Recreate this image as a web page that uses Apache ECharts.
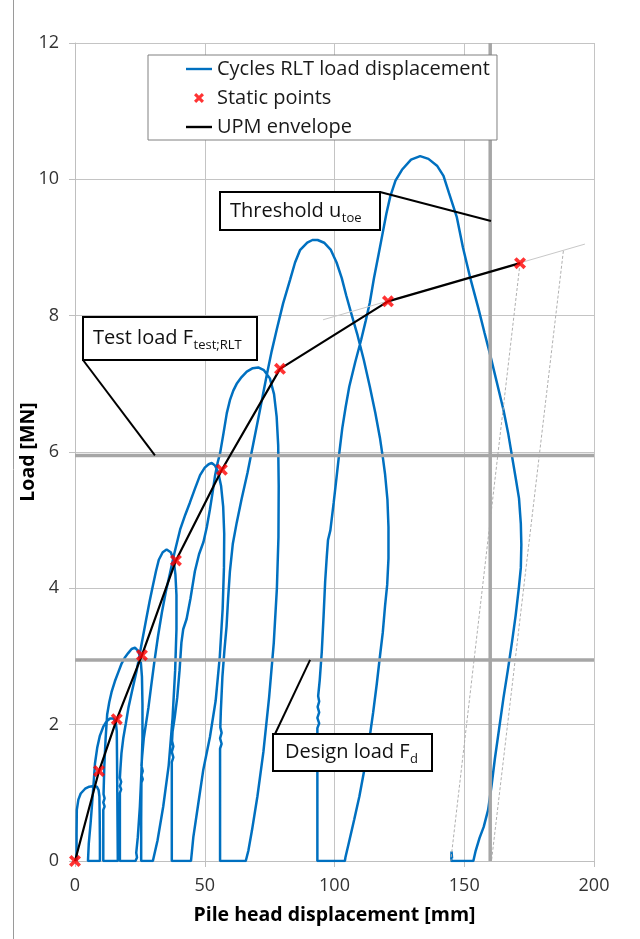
<!DOCTYPE html>
<html><head><meta charset="utf-8">
<script src="https://cdn.jsdelivr.net/npm/echarts@6/dist/echarts.min.js"></script>
<style>html,body{margin:0;padding:0;background:#fff;} #c{width:640px;height:939px;}</style>
</head><body><div id="c"></div>
<script>
// ---------------- data ----------------
const xTicks = [0, 50, 100, 150, 200];
const yTicks = [0, 2, 4, 6, 8, 10, 12];

// RLT load cycles: [displacement mm, load MN]
const cycle1 = [[0.6,0],[0.6,0.4],[0.7,0.75],[1.3,0.9],[2.2,0.99],[3.9,1.06],[5.5,1.09],[7.2,1.1],[8.4,1.09],[9.1,1.04],[9.4,0.95],[9.5,0.7],[9.6,0.3],[9.6,0]];
const cycle2 = [[5.0,0],[5.3,0.25],[6.0,0.55],[6.6,0.85],[7.1,1.1],[7.7,1.43],[8.6,1.67],[9.6,1.84],[10.9,1.97],[12.2,2.05],[13.5,2.09],[14.8,2.09],[15.7,2.04],[16.1,1.9],[16.2,1.5],[16.3,1.0],[16.4,0.5],[16.5,0]];
const cycle3 = [[10.9,0],[10.9,0.5],[10.9,0.75],[11.4,0.8],[10.9,0.86],[11.4,0.92],[11.0,0.98],[11.3,1.4],[11.8,1.8],[12.4,2.15],[13.2,2.33],[14.1,2.48],[15.4,2.64],[16.7,2.77],[18.0,2.9],[19.3,2.99],[20.5,3.05],[21.8,3.11],[23.1,3.13],[24.4,3.08],[25.3,2.95],[25.8,2.7],[26.0,2.3],[26.0,1.8],[25.6,1.3],[25.0,0.8],[24.2,0.35],[23.6,0.12],[23.9,0.05],[23.3,0]];
const cycle4 = [[17.3,0],[17.3,0.6],[17.3,1.0],[17.8,1.05],[17.3,1.1],[17.8,1.16],[17.3,1.22],[17.5,1.35],[17.9,1.58],[18.6,1.8],[19.6,2.02],[20.6,2.25],[21.8,2.46],[23.8,2.8],[25.5,3.15],[27.4,3.54],[28.7,3.8],[29.9,4.02],[31.2,4.25],[32.3,4.42],[33.8,4.53],[35.3,4.57],[36.9,4.53],[38.0,4.42],[38.7,4.2],[39.1,3.9],[39.1,3.4],[38.6,2.8],[37.6,2.1],[36.1,1.4],[34.0,0.8],[31.8,0.3],[30.0,0]];
const cycle5 = [[25.5,0],[25.5,0.6],[25.6,1.15],[26.1,1.2],[25.6,1.26],[26.1,1.32],[25.6,1.4],[25.9,1.55],[26.5,1.8],[27.3,2.0],[28.3,2.25],[29.3,2.55],[30.5,2.9],[32.0,3.3],[33.5,3.65],[35.0,3.95],[36.6,4.22],[38.2,4.5],[40.5,4.86],[42.5,5.08],[44.3,5.26],[46.3,5.47],[48.2,5.66],[50.0,5.77],[51.5,5.82],[52.7,5.84],[54.0,5.8],[55.2,5.7],[56.3,5.5],[57.1,5.2],[57.5,4.8],[57.4,4.3],[56.9,3.7],[55.8,3.0],[54.2,2.35],[52.0,1.82],[49.4,1.33],[47.5,0.84],[45.6,0.35],[44.7,0]];
const cycle6 = [[37.3,0],[37.3,0.8],[37.3,1.45],[37.9,1.52],[37.3,1.6],[37.9,1.68],[37.4,1.76],[37.6,1.9],[38.4,2.1],[39.4,2.4],[40.3,2.8],[41.0,3.2],[41.7,3.4],[43.0,3.55],[44.5,3.85],[46.2,4.25],[47.8,4.5],[49.5,4.68],[50.8,4.9],[52.0,5.16],[53.0,5.4],[54.0,5.66],[55.0,5.85],[55.9,5.98],[57.2,6.27],[58.5,6.57],[59.7,6.76],[61.0,6.9],[62.3,7.0],[64.2,7.1],[66.2,7.18],[68.5,7.23],[70.6,7.24],[72.8,7.2],[75.1,7.08],[76.7,6.85],[77.7,6.52],[78.3,6.1],[78.5,5.5],[78.4,4.75],[77.8,4.0],[76.6,3.2],[74.8,2.4],[72.6,1.6],[70.3,0.95],[68.2,0.45],[66.8,0.15],[65.8,0]];
const cycle7 = [[55.9,0],[55.9,0.9],[55.9,1.65],[56.5,1.72],[55.9,1.8],[56.5,1.88],[56.0,1.96],[56.2,2.2],[56.8,2.7],[57.6,3.1],[58.4,3.44],[59.0,3.85],[59.7,4.25],[60.8,4.65],[62.3,4.96],[64.2,5.31],[66.5,5.7],[68.7,6.12],[71.2,6.6],[73.9,7.13],[75.8,7.48],[77.7,7.79],[80.2,8.18],[82.9,8.53],[84.8,8.78],[86.7,8.96],[89.5,9.07],[91.5,9.11],[93.5,9.11],[96.0,9.07],[98.5,8.97],[100.8,8.78],[102.8,8.55],[104.5,8.3],[106.7,8.0],[108.9,7.71],[111.3,7.35],[113.6,6.96],[115.7,6.58],[117.5,6.21],[118.7,5.9],[119.5,5.67],[120.4,5.3],[120.8,4.9],[120.8,4.44],[120.3,4.05],[119.5,3.75],[118.6,3.35],[117.5,3.0],[116.3,2.6],[114.9,2.18],[113.3,1.75],[111.6,1.36],[109.6,0.95],[107.6,0.61],[105.6,0.28],[104.2,0.05],[104.0,0]];
const cycle8 = [[93.4,0],[93.4,1.0],[93.4,1.95],[94.1,2.02],[93.4,2.1],[94.1,2.18],[93.5,2.26],[94.1,2.34],[93.7,2.42],[94.3,2.65],[95.1,3.07],[95.8,3.6],[96.4,4.1],[97.0,4.45],[97.5,4.71],[98.4,4.85],[99.7,5.26],[100.7,5.6],[101.7,5.94],[103.0,6.35],[104.3,6.66],[105.7,6.96],[108.0,7.32],[110.3,7.65],[112.0,7.92],[113.6,8.19],[115.2,8.55],[117.0,8.9],[118.5,9.2],[120.0,9.5],[121.5,9.75],[123.5,9.98],[126.0,10.14],[129.5,10.29],[133.0,10.34],[136.2,10.3],[139.5,10.2],[142.0,10.05],[144.1,9.8],[147.1,9.45],[149.5,9.0],[152.2,8.57],[155.5,8.1],[157.8,7.75],[159.9,7.44],[162.5,7.03],[165.1,6.62],[166.9,6.28],[168.4,5.94],[169.9,5.6],[171.1,5.32],[171.8,4.95],[172.0,4.64],[171.8,4.3],[171.1,4.03],[169.8,3.6],[168.4,3.21],[166.8,2.8],[165.1,2.39],[163.4,1.93],[161.8,1.5],[160.5,1.1],[159.2,0.75],[157.5,0.5],[155.9,0.34],[154.4,0.15],[153.5,0],[145.0,0],[145.1,0.14],[145.3,0.04]];

// static points (= UPM envelope vertices)
const staticX = [0, 9.25, 16.1, 25.8, 38.9, 56.6, 79.0, 120.6, 171.5];
const staticY = [0, 1.32, 2.08, 3.02, 4.41, 5.74, 7.22, 8.21, 8.77];

// extrapolation & unloading construction lines
const extrapLine = [[95.6, 7.94], [196.5, 9.05]];
const unload1 = [[171.5, 8.77], [144.8, 0]];
const unload2 = [[188.2, 8.95], [160.5, 0]];

// reference levels
const thresholdDisp = 160;
const testLoad = 5.95;
const designLoad = 2.95;

const seriesNames = ['Cycles RLT load displacement', 'Static points', 'UPM envelope'];
const annoThreshold = ['Threshold u', 'toe'];
const annoTest = ['Test load F', 'test;RLT'];
const annoDesign = ['Design load F', 'd'];

// ---------------- chart ----------------
const FONT = '"Open Sans", "Noto Sans", sans-serif';
const BLUE = '#0070C0';
const chart = echarts.init(document.getElementById('c'), null, {renderer: 'canvas'});
const cycles = [].concat(cycle1, cycle2, cycle3, cycle4, cycle5, cycle6, cycle7, cycle8);
const staticPts = staticX.map((x, i) => [x, staticY[i]]);
const xSym = 'path://M0,3 L3,0 L7,4 L11,0 L14,3 L10,7 L14,11 L11,14 L7,10 L3,14 L0,11 L4,7 Z';
const lineIcon = 'path://M0,0 L26,0 L26,2.4 L0,2.4 Z';
const refStyle = {color: '#a6a6a6', width: 3.5};

const axisCommon = {
  axisLine: {show: true, lineStyle: {color: '#bfbfbf', width: 1}},
  axisTick: {show: true, inside: false, length: 6, lineStyle: {color: '#bfbfbf'}},
  splitLine: {show: true, lineStyle: {color: '#c4c4c4', width: 1}},
  nameLocation: 'middle',
  nameMoveOverlap: false,
  nameTextStyle: {fontSize: 19.5, fontWeight: 'bold', fontFamily: FONT, color: '#000'}
};

chart.setOption({
  animation: false,
  backgroundColor: '#fff',
  grid: {left: 75, right: 46, top: 43, bottom: 78, containLabel: false},
  xAxis: Object.assign({}, axisCommon, {
    type: 'value', min: xTicks[0], max: xTicks[xTicks.length - 1], interval: xTicks[1] - xTicks[0],
    name: 'Pile head displacement [mm]', nameGap: 44,
    axisLabel: {fontSize: 18, fontFamily: FONT, color: '#333', margin: 16}
  }),
  yAxis: Object.assign({}, axisCommon, {
    type: 'value', min: yTicks[0], max: yTicks[yTicks.length - 1], interval: yTicks[1] - yTicks[0],
    name: 'Load [MN]', nameGap: 37,
    axisLabel: {fontSize: 18, fontFamily: FONT, color: '#333', margin: 16}
  }),
  legend: {
    data: [
      {name: seriesNames[0], icon: lineIcon, itemStyle: {color: BLUE}},
      {name: seriesNames[1], icon: xSym, itemStyle: {color: '#ff0000'}},
      {name: seriesNames[2], icon: lineIcon, itemStyle: {color: '#000'}}
    ],
    orient: 'vertical', left: 148, top: 55,
    padding: [3, 7, 2, 38], itemGap: 7, itemWidth: 26, itemHeight: 10, symbolKeepAspect: true,
    backgroundColor: '#fff', borderColor: '#808080', borderWidth: 1, borderRadius: 0,
    textStyle: {fontSize: 20, fontFamily: FONT, color: '#1a1a1a', lineHeight: 22},
    selectedMode: false
  },
  series: [
    {name: seriesNames[0], type: 'line', data: cycles, showSymbol: false, symbol: 'none',
     lineStyle: {color: BLUE, width: 2.5}, itemStyle: {color: BLUE}, z: 2, silent: true},
    {name: 'extrap', type: 'line', data: extrapLine, showSymbol: false, symbol: 'none',
     lineStyle: {color: '#c8c8c8', width: 1}, z: 2, silent: true},
    {name: 'unload1', type: 'line', data: unload1, showSymbol: false, symbol: 'none',
     lineStyle: {color: '#b0b0b0', width: 1, type: [3, 2]}, z: 2, silent: true},
    {name: 'unload2', type: 'line', data: unload2, showSymbol: false, symbol: 'none',
     lineStyle: {color: '#b0b0b0', width: 1, type: [3, 2]}, z: 2, silent: true},
    {name: 'threshold', type: 'line', data: [[thresholdDisp, yTicks[0]], [thresholdDisp, yTicks[yTicks.length - 1]]],
     showSymbol: false, symbol: 'none', lineStyle: refStyle, z: 3, silent: true},
    {name: 'test', type: 'line', data: [[xTicks[0], testLoad], [xTicks[xTicks.length - 1], testLoad]],
     showSymbol: false, symbol: 'none', lineStyle: refStyle, z: 3, silent: true},
    {name: 'design', type: 'line', data: [[xTicks[0], designLoad], [xTicks[xTicks.length - 1], designLoad]],
     showSymbol: false, symbol: 'none', lineStyle: refStyle, z: 3, silent: true},
    {name: seriesNames[2], type: 'line', data: staticPts, showSymbol: false, symbol: 'none',
     lineStyle: {color: '#000', width: 2.2}, itemStyle: {color: '#000'}, z: 4, silent: true},
    {name: seriesNames[1], type: 'scatter', data: staticPts, symbol: xSym, symbolSize: 12,
     itemStyle: {color: '#ff0000'}, z: 6, silent: true}
  ]
});

// ---------------- annotations ----------------
const px = p => chart.convertToPixel({gridIndex: 0}, p);
const mctx = document.createElement('canvas').getContext('2d');
function tw(t, size) { mctx.font = size + 'px ' + FONT; return mctx.measureText(t).width; }

function annotation(box, texts, padL, target, corner) {
  const cy = box.y + box.h / 2;
  const tx = box.x + padL;
  const w = tw(texts[0], 20);
  return [
    {type: 'line', shape: {x1: corner[0], y1: corner[1], x2: target[0], y2: target[1]},
     style: {stroke: '#000', lineWidth: 2}, z: 100},
    {type: 'rect', shape: {x: box.x, y: box.y, width: box.w, height: box.h},
     style: {fill: '#fff', stroke: '#000', lineWidth: 2}, z: 101},
    {type: 'text', x: tx, y: cy, style: {text: texts[0], fontSize: 20, fontFamily: FONT, fill: '#111', align: 'left', verticalAlign: 'middle'}, z: 102},
    {type: 'text', x: tx + w + 0.5, y: cy + 7, style: {text: texts[1], fontSize: 13, fontFamily: FONT, fill: '#111', align: 'left', verticalAlign: 'middle'}, z: 102}
  ];
}

const tBox = {x: 220, y: 192, w: 160, h: 38};
const lBox = {x: 83, y: 317, w: 174, h: 43};
const dBox = {x: 273, y: 734, w: 159, h: 37};

const g = [].concat(
  annotation(tBox, annoThreshold, 10, px([thresholdDisp + 0.3, 9.39]), [tBox.x + tBox.w, tBox.y]),
  annotation(lBox, annoTest, 10, px([30.8, testLoad]), [lBox.x, lBox.y + lBox.h]),
  annotation(dBox, annoDesign, 12, px([90.6, designLoad]), [dBox.x + 2, dBox.y]),
  [{type: 'line', shape: {x1: 13.5, y1: 0, x2: 13.5, y2: 939}, style: {stroke: '#9a9a9a', lineWidth: 1}, z: 100}]
);
chart.setOption({graphic: g});
</script></body></html>
